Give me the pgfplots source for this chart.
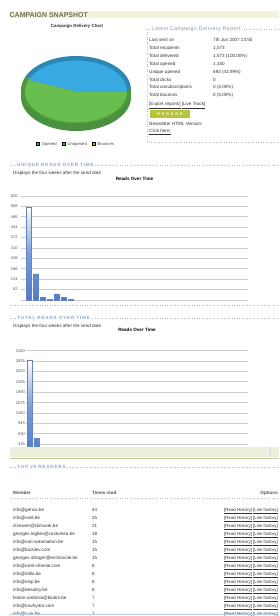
\documentclass[border=0pt]{standalone}
\usepackage{pgfplots}
\pgfplotsset{compat=1.18}
\usepackage{fontspec}
\setmainfont{Liberation Sans}
\newfontfamily\spc[LetterSpace=18]{Liberation Sans}
\newfontfamily\spcb[LetterSpace=9]{Liberation Sans}
\newcommand\fs{\fontsize{4.6}{5}\selectfont}
\definecolor{bandbg}{HTML}{F3F3DC}
\definecolor{bandtxt}{HTML}{6E6E5A}
\definecolor{secblue}{HTML}{8AA5CB}
\definecolor{txt}{HTML}{333333}
\definecolor{pieblue}{HTML}{38A9E1}
\definecolor{pieblueD}{HTML}{2D87B5}
\definecolor{piegreen}{HTML}{69BE4F}
\definecolor{piegreenD}{HTML}{4C9A3A}
\definecolor{piegreenS}{HTML}{4A9040}
\definecolor{bounce}{HTML}{E8A617}
\definecolor{barblue}{HTML}{4E7CC8}
\definecolor{barborder}{HTML}{6283C6}
\definecolor{resend}{HTML}{B7C43A}
\definecolor{dotgray}{HTML}{BBBBBB}
\definecolor{footbg}{HTML}{EEEEDD}
\definecolor{footgreen}{HTML}{BCD19A}
\definecolor{lblue}{HTML}{B0CDE8}
\pgfplotsset{
  readsbar/.style={scale only axis, ymin=0, xtick=\empty,
    ymajorgrids, major grid style={draw=black!20, line width=0.8bp},
    axis line style={draw=none}, ytick style={draw=none},
    yticklabel style={font=\fontsize{4}{4}\selectfont, text=txt!85, inner sep=0.5bp},
    title style={font=\fontsize{4.6}{5}\bfseries\selectfont, anchor=base, at={(0.5,1)}},
    clip=false},
  readsbars/.style={ybar, bar width=5bp, draw=barborder, line width=0.4bp, top color=white, bottom color=barblue, middle color=barblue!75}
}
% pie data
\pgfmathsetmacro\opened{692}
\pgfmathsetmacro\unopened{881}
\pgfmathsetmacro\bounces{0}
\pgfmathsetmacro\total{\opened+\unopened+\bounces}
\pgfmathsetmacro\angA{360*(\opened/\total)}
\pgfmathsetmacro\angB{\angA+360*(\unopened/\total)}
\newcommand\T[4][]{\node[anchor=base west, inner sep=0, font=\fs, text=txt, #1] at (#2,614.4-#3) {#4};}
\begin{document}
\begin{tikzpicture}[x=1bp,y=1bp]
\useasboundingbox (0,0) rectangle (279,616);
\fill[white] (0,0) rectangle (279,616);
\coordinate (pieSW) at (21,492);
\coordinate (ur1SW) at (20.7,316);
\coordinate (tr2SW) at (26,161.3);
% header band
\fill[bandbg] (10,616-11) rectangle (279,616-18.5);
\node[anchor=base west, inner sep=0, font=\fontsize{7}{7}\bfseries\selectfont, text=bandtxt] at (9.5,616-17.4) {CAMPAIGN SNAPSHOT};
% pie title
\node[font=\fontsize{4.4}{5}\bfseries\selectfont, text=txt] at (77,616-26) {Campaign Delivery Chart};
% pie chart
\begin{axis}[at={(pieSW)}, anchor=south west, scale only axis, width=110bp, height=68bp,
  xmin=-1, xmax=1, ymin=-1, ymax=1, hide axis, clip=false,
  legend columns=3,
  legend image code/.code={\fill[#1] (0bp,-0.4bp) rectangle (3.4bp,3.0bp);},
  legend style={at={(0.5,-0.309)}, anchor=center, draw=none, fill=none, inner sep=0pt,
    font=\fontsize{4.2}{5}\selectfont, text=txt!90,
    /tikz/every even column/.append style={column sep=3bp}}]
\addlegendimage{fill=pieblue}\addlegendentry{Opened}
\addlegendimage{fill=piegreen}\addlegendentry{Unopened}
\addlegendimage{fill=bounce}\addlegendentry{Bounces}
\fill[piegreenS] ([yshift=-7bp]axis cs:0,0) ellipse[x radius=55bp, y radius=34bp];
\fill[piegreenS] (axis cs:-1,0) rectangle ([yshift=-7bp]axis cs:1,0);
\fill[pieblueD] (axis cs:0,0) -- ([shift={(0:55bp and 34bp)}]axis cs:0,0) arc[start angle=0, end angle=\angA, x radius=55bp, y radius=34bp] -- cycle;
\fill[piegreenD] (axis cs:0,0) -- ([shift={(\angA:55bp and 34bp)}]axis cs:0,0) arc[start angle=\angA, end angle=\angB, x radius=55bp, y radius=34bp] -- cycle;
\fill[pieblue] ([yshift=-1.5bp]axis cs:0,0) -- ([shift={(0:51bp and 31bp)},yshift=-1.5bp]axis cs:0,0) arc[start angle=0, end angle=\angA, x radius=51bp, y radius=31bp] -- cycle;
\fill[piegreen] ([yshift=-1.5bp]axis cs:0,0) -- ([shift={(\angA:51bp and 31bp)},yshift=-1.5bp]axis cs:0,0) arc[start angle=\angA, end angle=\angB, x radius=51bp, y radius=31bp] -- cycle;
\end{axis}
% delivery report box
\draw[dotgray, dotted, line width=0.5bp] (279,616-29) -- (147,616-29) -- (147,616-142) -- (279,616-142);
\node[anchor=west, inner sep=1.5bp, fill=white, text=secblue!90!black, font=\fontsize{5.2}{5}\spcb\selectfont] at (150,616-29) {Latest Campaign Delivery Report};
\T{149}{40}{Last sent on}\T{213}{40}{7th Jun 2007 13:50}
\T{149}{48.2}{Total recipients}\T{213}{48.2}{1,573}
\T{149}{56}{Total delivered}\T{213}{56}{1,573 (100.00\%)}
\T{149}{64}{Total opened}\T{213}{64}{1,340}
\T{149}{71.8}{Unique opened}\T{213}{71.8}{692 (43.99\%)}
\T{149}{79.7}{Total clicks}\T{213}{79.7}{0}
\T{149}{87.4}{Total unsubscriptions}\T{213}{87.4}{0 (0.00\%)}
\T{149}{95.2}{Total bounces}\T{213}{95.2}{0 (0.00\%)}
\T{149}{104}{\underline{[Export reports]} \underline{[Live Track]}}
\fill[resend] (150,616-110.5) rectangle (190,616-117.8);
\node[text=white, font=\fontsize{3.8}{4}\bfseries\selectfont] at (170,616-114.2) {R\,\,\,E\,\,\,S\,\,\,E\,\,\,N\,\,\,D};
\T{149}{124}{Newsletter HTML Version:}
\T{149}{131}{\underline{Click here:}}
% unique reads section
\draw[dotgray, dotted, line width=0.5bp] (10,616-165) -- (279,616-165);
\node[anchor=west, inner sep=1.5bp, fill=white, text=secblue, font=\fontsize{4.6}{5}\spc\bfseries\selectfont] at (15.5,616-165) {UNIQUE READS OVER TIME};
\T{13}{173}{Displays the four weeks after the send date}
\begin{axis}[readsbar, at={(ur1SW)}, anchor=south west, width=227.6bp, height=104bp,
  xmin=-1.23, xmax=31.75, ymax=620,
  ytick={0,62,124,186,248,310,372,434,496,558,620},
  yticklabels={,62,124,186,248,310,372,434,496,558,620},
  yticklabel style={xshift=-2.5bp},
  title={Reads Over Time}, title style={yshift=9.5bp}]
\addplot[readsbars] coordinates {(0,553) (1,155) (2,16) (3,2) (4,36) (5,16) (6,3)};
\end{axis}
\draw[dotgray, dotted, line width=0.5bp] (10,616-305) -- (279,616-305);
% total reads section
\draw[dotgray, dotted, line width=0.5bp] (10,616-318) -- (279,616-318);
\node[anchor=west, inner sep=1.5bp, fill=white, text=secblue, font=\fontsize{4.6}{5}\spc\bfseries\selectfont] at (15.5,616-318) {TOTAL READS OVER TIME};
\T{13}{326}{Displays the four weeks after the send date}
\begin{axis}[readsbar, at={(tr2SW)}, anchor=south west, width=222bp, height=104bp,
  xmin=-0.6, xmax=33, ymax=3150,
  ytick={0,315,630,945,1260,1575,1890,2205,2520,2835,3150},
  yticklabels={,315,630,945,1260,1575,1890,2205,2520,2835,3150},
  yticklabel style={xshift=-0.5bp},
  title={Reads Over Time}, title style={yshift=13.2bp}]
\addplot[readsbars] coordinates {(0,2868) (1,500)};
\end{axis}
% footer band
\fill[footbg] (10,616-447.5) rectangle (279,616-457.5);
\draw[black!15, line width=0.4bp] (270,616-447.5) -- (270,616-457.5);
\draw[footgreen, line width=1.2bp] (10,616-458.6) -- (279,616-458.6);
% top readers
\draw[dotgray, dotted, line width=0.5bp] (10,616-467) -- (279,616-467);
\node[anchor=west, inner sep=1.5bp, fill=white, text=secblue, font=\fontsize{4.6}{5}\spc\bfseries\selectfont] at (15.5,616-467) {TOP 25 READERS};
\T[font=\fs\bfseries, text=txt!85]{13}{493}{Member}
\T[font=\fs\bfseries, text=txt!85]{92}{493}{Times read}
\node[anchor=base east, inner sep=0, font=\fs\bfseries, text=txt!85] at (278,614.4-493) {Options};
\draw[dotgray, dotted, line width=0.5bp] (10,616-498) -- (279,616-498);
\foreach \em/\n [count=\i from 0] in {info@genco.be/44, info@vedi.be/25, climaver@climaver.be/21, georges.leglise@costumea.be/18, info@sari-automation.be/15, info@bizzdev.com/15, georges.stlinger@technocite.be/15, info@amb-chemie.com/8, info@sibla.be/8, info@stsp.be/8, info@desobry.be/8, biotim.wallonia@biotim.be/7, info@travhydro.com/7, info@cv-k.be/7}{
  \node[anchor=base west, inner sep=0, font=\fs, text=txt] at (13,104.7-8*\i) {\em};
  \node[anchor=base west, inner sep=0, font=\fs, text=txt] at (92,104.7-8*\i) {\n};
  \node[anchor=base east, inner sep=0, font=\fontsize{4.4}{5}\selectfont, text=txt] at (278,104.7-8*\i) {\underline{[Read History]} \underline{[Link history]}};
}
\draw[lblue, line width=0.9bp] (10,616-614.6) -- (279,616-614.6);
\end{tikzpicture}
\end{document}
